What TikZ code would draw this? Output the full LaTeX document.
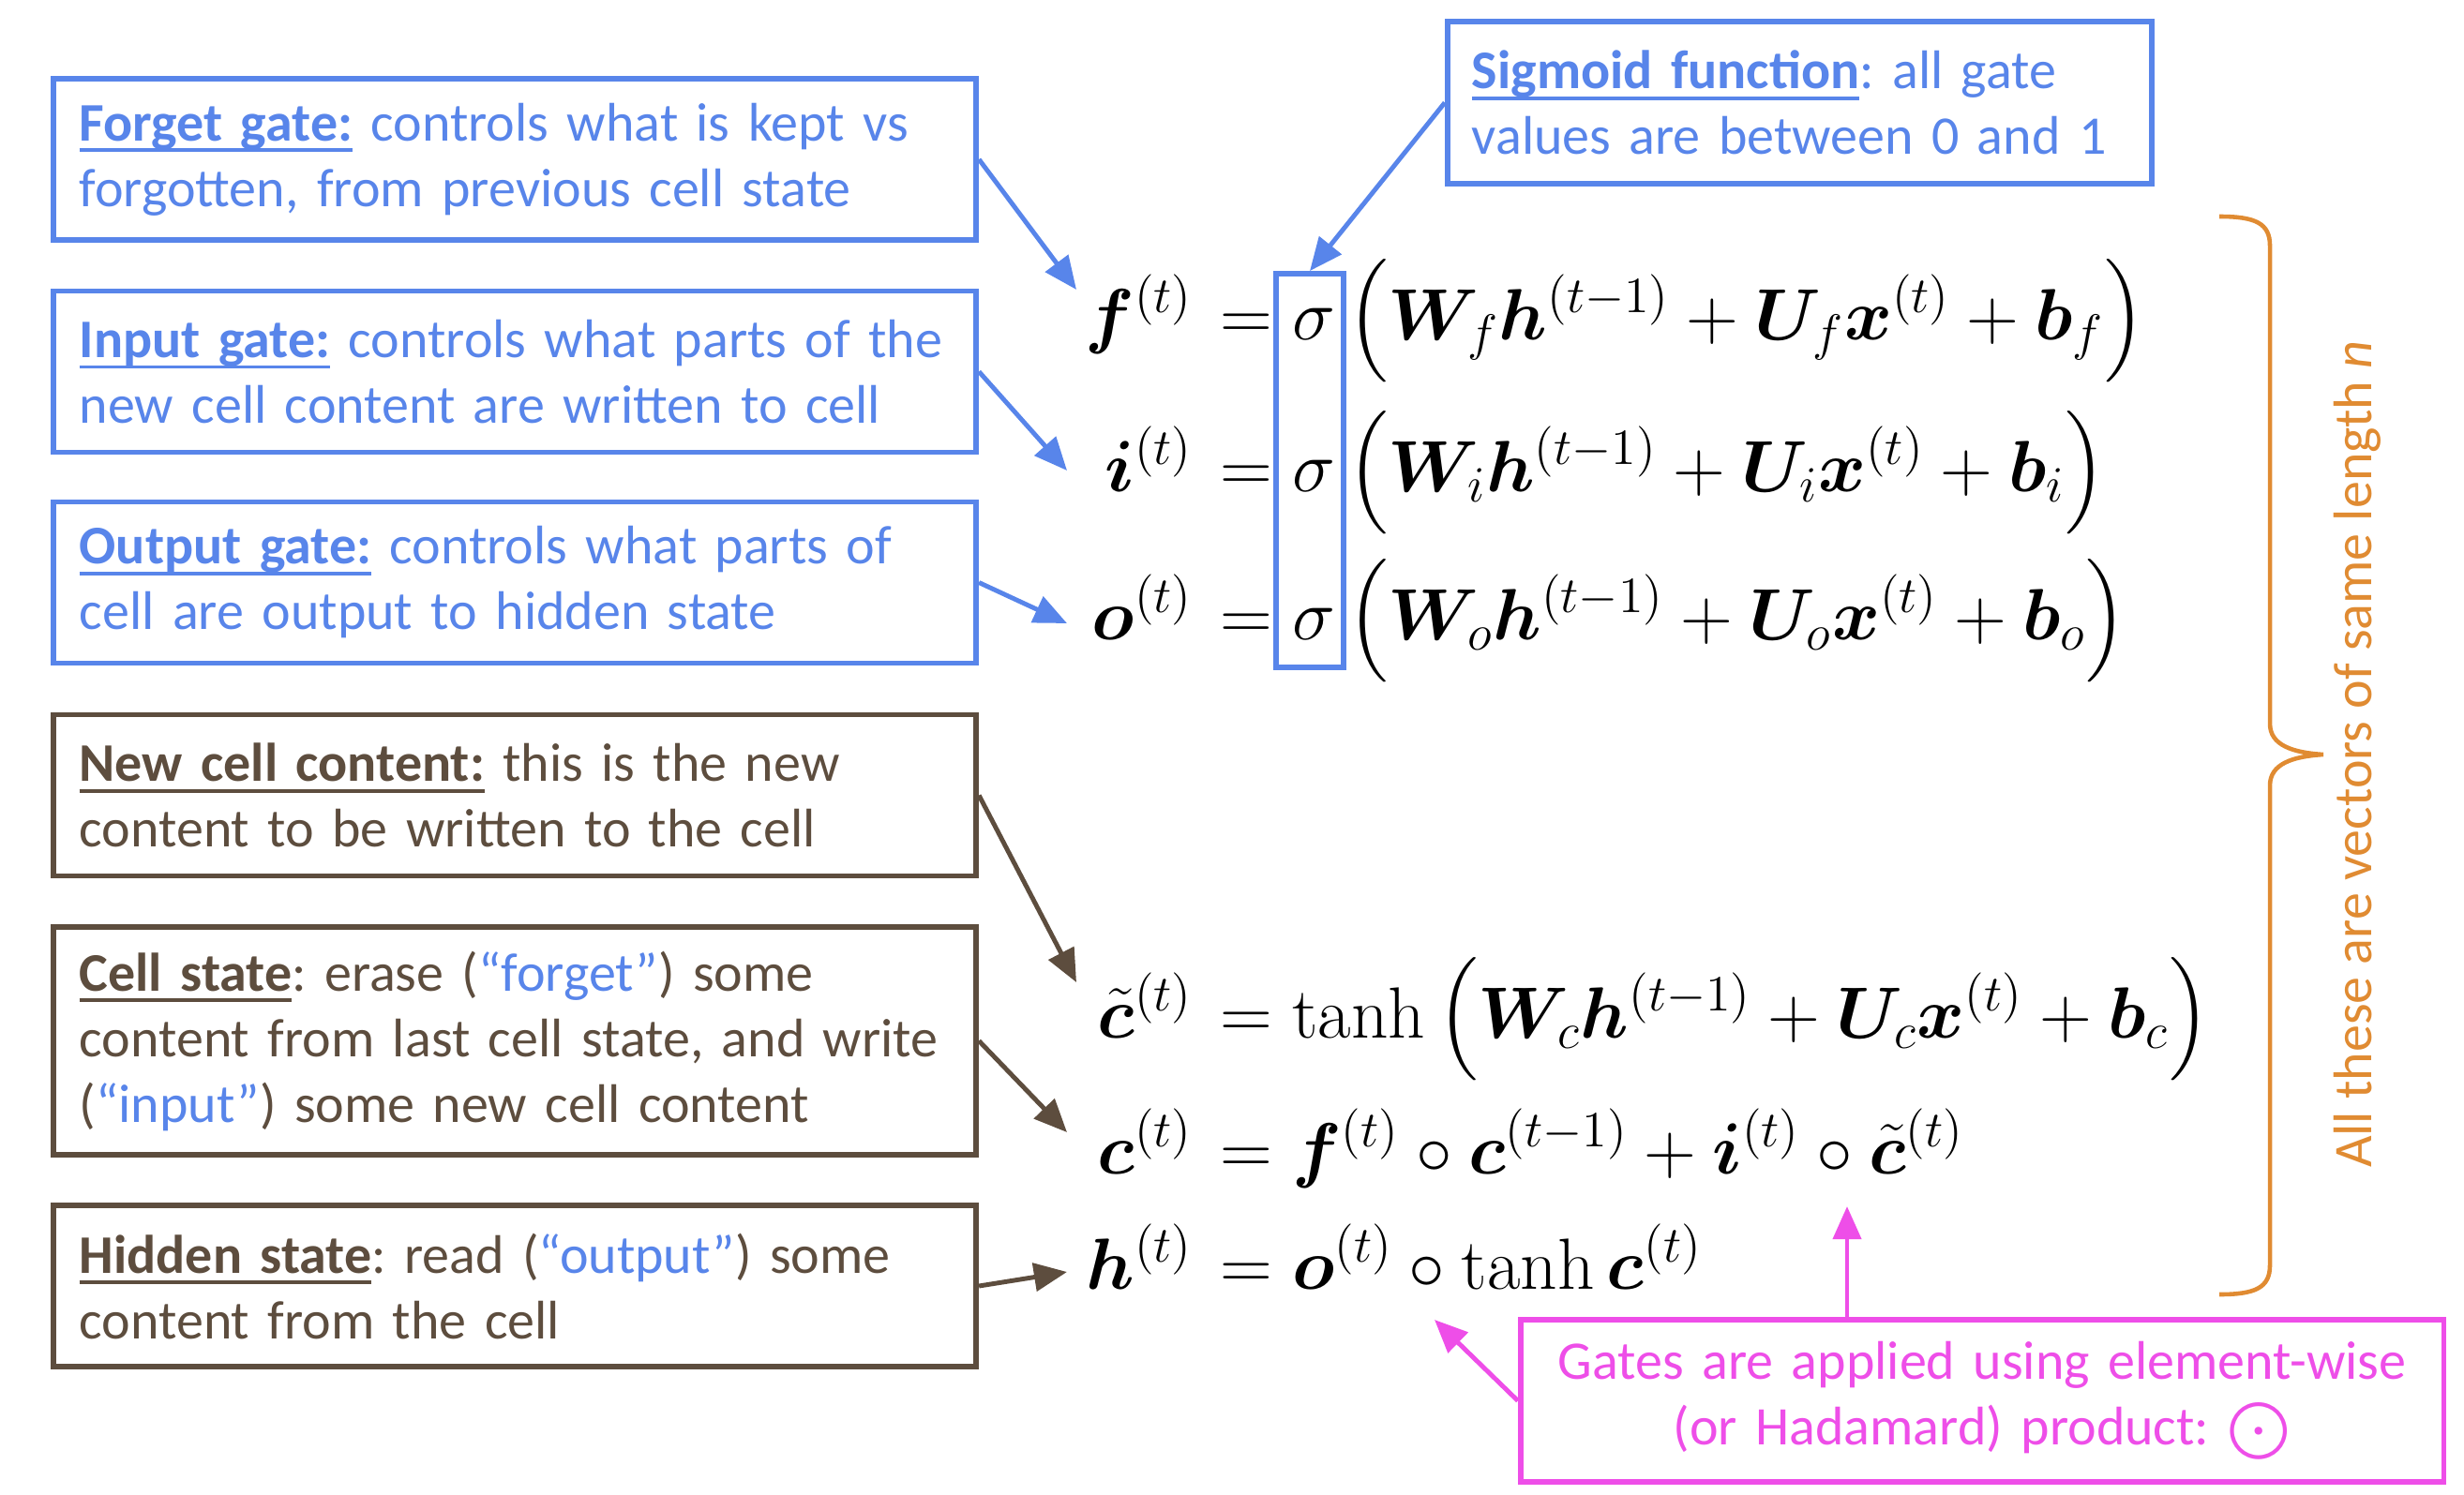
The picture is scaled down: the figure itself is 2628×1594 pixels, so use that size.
\RequirePackage{fix-cm}
\documentclass[tikz,border=0pt]{standalone}
\usepackage{amsmath}
\usepackage{bm}
\usepackage{fontspec}
\newfontfamily\carl{Carlito}
\usetikzlibrary{arrows.meta,calc}
\definecolor{gblue}{RGB}{88,133,234}
\definecolor{gbrown}{RGB}{93,77,62}
\definecolor{gorange}{RGB}{224,139,50}
\definecolor{gmag}{RGB}{238,78,232}
\newcommand\ulbold[1]{\setbox0\hbox{\bfseries #1}\rlap{\rule[-3.4pt]{\wd0}{1.1pt}}\box0\relax}
\newcommand\bs[1]{\bm{#1}}
\newcommand\lp{\,\Bigl(}
\newcommand\rp{\Bigr)}
\tikzset{
  txt/.style={font=\carl\fontsize{16.5}{19.9}\selectfont\frenchspacing},
  tbox/.style={txt, draw, line width=1.6pt, inner xsep=0.28cm, inner ysep=0pt,
    text width=9.28cm, minimum height=1.72cm, align=left},
  bluebox/.style={tbox, draw=gblue, text=gblue},
  brownbox/.style={tbox, draw=gbrown, text=gbrown},
  eqn/.style={inner sep=0pt, font=\fontsize{22}{26}\selectfont},
  lhs/.style={eqn, anchor=base east},
  rhs/.style={eqn, anchor=base west},
  conn/.style={line width=1.4pt, -{Triangle[length=10pt,width=8.5pt]}},
}
\begin{document}
\begin{tikzpicture}[x=0.01cm, y=-0.01cm]
\useasboundingbox (0,0) rectangle (2628,1594);

% left explanation boxes
\node[bluebox] (forget) at (549,170)
  {\ulbold{Forget gate:} controls what is kept vs\\forgotten, from previous cell state};
\node[bluebox] (input) at (549,396.5)
  {\ulbold{Input gate:} controls what parts of the\\new cell content are written to cell};
\node[bluebox] (output) at (549,621.5)
  {\ulbold{Output gate:} controls what parts of\\cell are output to hidden state};
\node[brownbox] (newcell) at (549,848.5)
  {\ulbold{New cell content:} this is the new\\content to be written to the cell};
\node[brownbox, minimum height=2.43cm] (cellstate) at (549,1110.5)
  {\ulbold{Cell state}: erase (\textcolor{gblue}{“forget”}) some\\content from last cell state, and write\\(\textcolor{gblue}{“input”}) some new cell content};
\node[brownbox] (hidden) at (549,1372)
  {\ulbold{Hidden state}: read (\textcolor{gblue}{“output”}) some\\content from the cell};

% sigmoid box
\node[bluebox, text width=6.99cm, inner xsep=0.26cm, minimum height=1.73cm] (sig) at (1919.5,109.5)
  {\ulbold{Sigmoid function}: all gate\\values are between 0 and 1};

% magenta box
\node[tbox, draw=gmag, text=gmag, align=center, minimum height=1.73cm] (had) at (2114,1494.5)
  {Gates are applied using element-wise\\(or Hadamard) product: $\bigodot$};

% equations
\node[lhs] (flhs) at (1273,362) {$\bs{f}^{(t)}$};
\node[rhs] (frhs) at (1279,362) {${}=\sigma\lp\bs{W}_f\bs{h}^{(t-1)}+\bs{U}_f\bs{x}^{(t)}+\bs{b}_f\rp$};
\node[lhs] (ilhs) at (1273,524) {$\bs{i}^{(t)}$};
\node[rhs] (irhs) at (1279,524) {${}=\sigma\lp\bs{W}_i\bs{h}^{(t-1)}+\bs{U}_i\bs{x}^{(t)}+\bs{b}_i\rp$};
\node[lhs] (olhs) at (1273,682) {$\bs{o}^{(t)}$};
\node[rhs] (orhs) at (1279,682) {${}=\sigma\lp\bs{W}_o\bs{h}^{(t-1)}+\bs{U}_o\bs{x}^{(t)}+\bs{b}_o\rp$};
\node[lhs] (ctlhs) at (1273,1107) {$\tilde{\bs{c}}^{(t)}$};
\node[rhs] (ctrhs) at (1279,1107) {${}=\tanh\lp\bs{W}_c\bs{h}^{(t-1)}+\bs{U}_c\bs{x}^{(t)}+\bs{b}_c\rp$};
\node[lhs] (clhs) at (1273,1252) {$\bs{c}^{(t)}$};
\node[rhs] (crhs) at (1279,1252) {${}=\bs{f}^{(t)}\circ\bs{c}^{(t-1)}+\bs{i}^{(t)}\circ\tilde{\bs{c}}^{(t)}$};
\node[lhs] (hlhs) at (1273,1375) {$\bs{h}^{(t)}$};
\node[rhs] (hrhs) at (1279,1375) {${}=\bs{o}^{(t)}\circ\tanh\bs{c}^{(t)}$};

% sigma highlight box
\node[draw=gblue, line width=1.6pt, minimum width=0.72cm, minimum height=4.2cm, inner sep=0pt] (sigbox) at (1397,502) {};

% arrow tips
\coordinate (ftip) at (1148,309);
\coordinate (itip) at (1138,502);
\coordinate (otip) at (1138,665);
\coordinate (cttip) at (1148,1048);
\coordinate (ctip) at (1138,1208);
\coordinate (htip) at (1138,1357);
\coordinate (hadtip) at (1970,1287);
\coordinate (circtip) at (1530,1408);

\draw[conn, gblue] (forget.east) -- (ftip);
\draw[conn, gblue] (input.east) -- (itip);
\draw[conn, gblue] (output.east) -- (otip);
\draw[conn, gblue] (sig.west) -- (sigbox.north);
\draw[conn, gbrown] (newcell.east) -- (cttip);
\draw[conn, gbrown] (cellstate.east) -- (ctip);
\draw[conn, gbrown] (hidden.east) -- (htip);
\draw[conn, gmag] (hadtip |- had.north) -- (hadtip);
\draw[conn, gmag] (had.west) -- (circtip);

% brace
\draw[gorange, line width=1.3pt] (2367,231) .. controls (2405,231) and (2421,238) .. (2421,262)
  -- (2421,772) .. controls (2421,795) and (2445,803) .. (2478,805)
  .. controls (2445,807) and (2421,815) .. (2421,838)
  -- (2421,1350) .. controls (2421,1374) and (2405,1381) .. (2367,1381);
\node[txt, text=gorange, rotate=90, inner sep=0pt] (vlabel) at (2514,805)
  {All these are vectors of same length \textit{n}};
\end{tikzpicture}
\end{document}
